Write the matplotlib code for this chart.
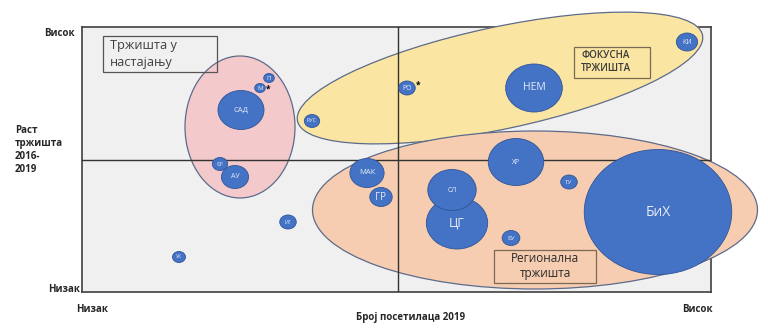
"""Bubble matrix of tourist markets: visitors 2019 vs. market growth 2016-2019."""

import matplotlib.pyplot as plt
from matplotlib.patches import Ellipse, Rectangle

plt.rcParams["font.family"] = ["Open Sans", "DejaVu Sans"]

# ----------------------------- Data -----------------------------
MARKETS = ["УК", "ИТ", "ФР", "АУ", "САД", "М", "П", "РУС", "РО", "НЕМ", "КИ",
           "МАК", "ГР", "ХР", "ЦГ", "СЛ", "ТУ", "БУ", "БиХ"]
# visitors 2019 (0 = low, 629 = high), growth 2016-2019 (0 = low, 265 = high)
VISITORS = [97, 206, 138, 153, 159, 178, 187, 230, 325, 452, 605,
            285, 299, 434, 375, 370, 487, 429, 576]
GROWTH = [35, 70, 128, 115, 182, 204, 214, 171, 204, 204, 250,
          119, 95, 130, 69, 102, 110, 54, 80]
BUBBLE_SIZE = [11, 14, 13, 23, 39, 9, 9, 13, 14, 48, 18,
               29, 19, 47, 52, 41, 14, 15, 125]
STARRED = {"М": -1.5, "РО": 3.0}

# groups: (center visitors, center growth, width, height, angle)
GROUP_PINK = (158, 165, 110, 142, 0)
GROUP_FOCUS = (418, 214, 414, 102, 12)
GROUP_REGION = (453, 82, 445, 158, 0)

X_MID = 316
Y_MID = 132
X_MAX = 629
Y_MAX = 265

# ----------------------------- Style -----------------------------
LABEL_SIZE = {"УК": 3.5, "ИТ": 3.5, "ФР": 3.5, "АУ": 5, "САД": 5.5, "М": 4.5, "П": 4.5,
              "РУС": 4, "РО": 5, "НЕМ": 7.5, "КИ": 5, "МАК": 5.5, "ГР": 7, "ХР": 5,
              "ЦГ": 9, "СЛ": 5, "ТУ": 4.5, "БУ": 4.5, "БиХ": 10}
STRETCH = 1.18
BUBBLE_COLOR = "#4472c4"
BUBBLE_EDGE = "#2f5597"
GROUP_EDGE = "#5d6b8a"
TEXT_COLOR = "#262626"


def caption_box(ax, x0, y0, x1, y1, edge):
    ax.add_patch(Rectangle((x0, y0), x1 - x0, y1 - y0, facecolor="none", edgecolor=edge,
                           linewidth=0.9, zorder=6))


fig = plt.figure(figsize=(7.68, 3.28), dpi=100)
ax = fig.add_axes([82 / 768, 36 / 328, 629 / 768, 265 / 328])
ax.set_xlim(0, X_MAX)
ax.set_ylim(0, Y_MAX)
ax.set_facecolor("#f0f0f0")
ax.set_xticks([])
ax.set_yticks([])
for spine in ax.spines.values():
    spine.set_color("#404040")
    spine.set_linewidth(1.2)
    spine.set_zorder(1)

for (cx, cy, w, h, ang), fc in [(GROUP_PINK, "#f3c9cb"), (GROUP_FOCUS, "#fbe5a2"),
                                 (GROUP_REGION, "#f6cdb0")]:
    ax.add_patch(Ellipse((cx, cy), w, h, angle=ang, facecolor=fc, edgecolor=GROUP_EDGE,
                         linewidth=0.9, zorder=2, clip_on=False))

ax.axvline(X_MID, color="#333333", linewidth=1.0, zorder=3)
ax.axhline(Y_MID, color="#333333", linewidth=1.0, zorder=3)

for name, x, y, d in zip(MARKETS, VISITORS, GROWTH, BUBBLE_SIZE):
    ax.add_patch(Ellipse((x, y), d * STRETCH, d, facecolor=BUBBLE_COLOR, edgecolor=BUBBLE_EDGE,
                         linewidth=0.6, zorder=4, clip_on=False))
    ax.text(x, y, name, color="#e6ecf8", fontsize=LABEL_SIZE[name], ha="center", va="center",
            zorder=5)
    if name in STARRED:
        ax.text(x + d * STRETCH * 0.5 + 0.5, y + STARRED[name], "*", color="black", fontsize=6,
                fontweight="bold", ha="left", va="center", zorder=5)

# group captions
caption_box(ax, 21, 220, 135, 256, "#555555")
ax.text(28, 238, "Тржишта у\nнастајању", fontsize=9.2, color="#404040", ha="left", va="center",
        linespacing=1.45, zorder=6)
caption_box(ax, 492, 214, 568, 245, "#7a6a55")
ax.text(499, 230, "ФОКУСНА\nТРЖИШТА", fontsize=7, fontweight="semibold", color="#3a3a3a",
        ha="left", va="center", linespacing=1.3, zorder=6)
caption_box(ax, 412, 9, 514, 42, "#7a6a55")
ax.text(463, 26, "Регионална\nтржишта", fontsize=8.5, color="#2a2a2a", ha="center", va="center",
        linespacing=1.25, zorder=6)

# axis captions
bold = dict(fontsize=7, fontweight="bold", color=TEXT_COLOR)
fig.text(75 / 768, 1 - 34 / 328, "Висок", ha="right", va="center", **bold)
fig.text(80 / 768, 1 - 290 / 328, "Низак", ha="right", va="center", **bold)
fig.text(15 / 768, 1 - 150 / 328, "Раст\nтржишта\n2016-\n2019", ha="left", va="center",
         linespacing=1.25, **bold)
fig.text(92 / 768, 1 - 309 / 328, "Низак", ha="center", va="center", **bold)
fig.text(411 / 768, 1 - 317 / 328, "Број посетилаца 2019", ha="center", va="center", **bold)
fig.text(697 / 768, 1 - 309 / 328, "Висок", ha="center", va="center", **bold)

fig.savefig("out.png", dpi=100)
